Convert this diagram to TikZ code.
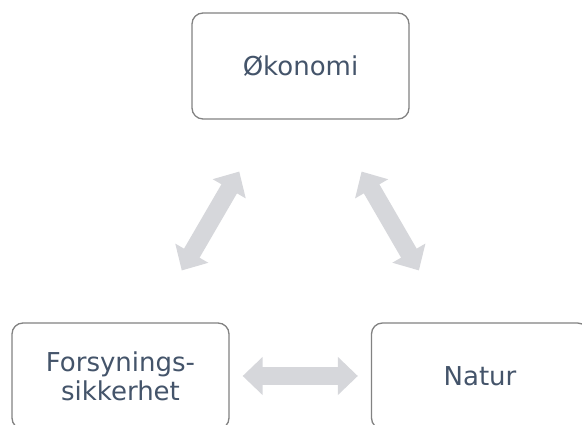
\documentclass[tikz,border=0pt]{standalone}
\usepackage{fontspec}
\setmainfont{DejaVu Sans}
\usepackage{tikz}
\usetikzlibrary{arrows.meta}
\definecolor{tekst}{RGB}{68,84,106}
\definecolor{ramme}{RGB}{130,130,130}
\definecolor{pil}{RGB}{214,215,219}

\begin{document}
\begin{tikzpicture}[x=1pt,y=1pt,
    boks/.style={draw=ramme,line width=1.3pt,rounded corners=11pt,fill=white,
      minimum width=217pt,minimum height=106pt,text=tekst,align=center,
      font=\fontsize{26}{29}\selectfont},
    dobbelpil/.style={draw=pil,line width=18pt,
      {Triangle[width=37pt,length=20pt]}-{Triangle[width=37pt,length=20pt]}}]
    \useasboundingbox (0,0) rectangle (582,425);
    \node [boks] (okonomi) at (300.5,359) {Økonomi};
    \node [boks] (forsyning) at (120.5,49) {Forsynings-\\sikkerhet};
    \node [boks] (natur) at (480,49) {Natur};
    % piler mellom boksene
    \draw [dobbelpil,shorten <=60pt,shorten >=60pt] (okonomi) -- (forsyning);
    \draw [dobbelpil,shorten <=60pt,shorten >=60pt] (okonomi) -- (natur);
    \draw [dobbelpil,shorten <=13pt,shorten >=13pt] (forsyning) -- (natur);
  \end{tikzpicture}
\end{document}
